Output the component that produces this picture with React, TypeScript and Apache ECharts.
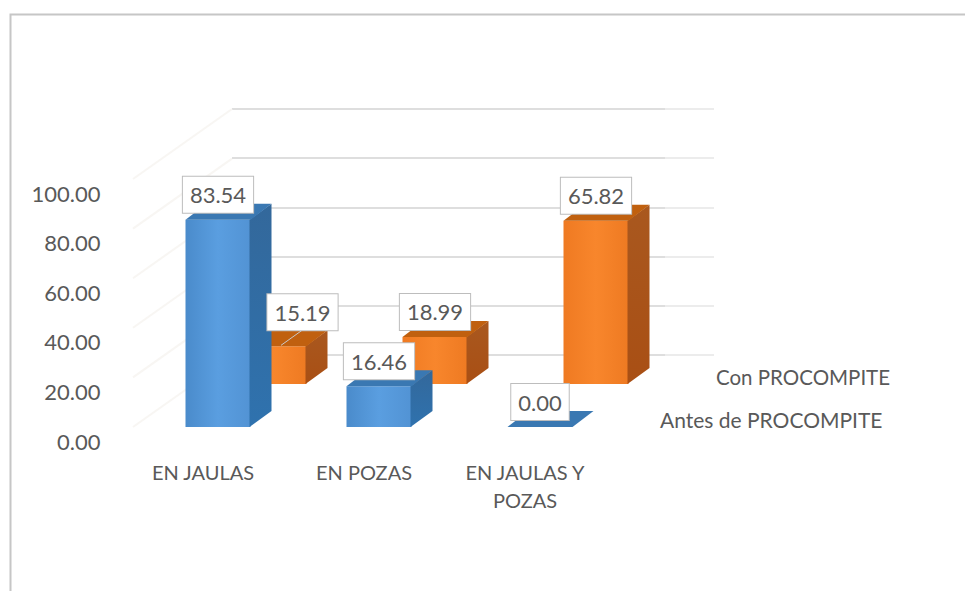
import React, { useEffect, useRef } from "react";
import * as echarts from "echarts";

const categories = ["EN JAULAS", "EN POZAS", "EN JAULAS Y\nPOZAS"];
const antes = [83.54, 16.46, 0.0];
const con = [15.19, 18.99, 65.82];
const seriesNames = ["Antes de PROCOMPITE", "Con PROCOMPITE"];
const wallTicks = [0, 20, 40, 60, 80, 100];

const FONT = "Lato";
const TEXT = "#595959";
const BAR_W = 65;
const SIDE_X = 21;
const SIDE_Y = 16;
const LABEL_CX = 15;
const ROW_X = 56;
const ROW_Y = 43;

type Palette = { front: string[]; side: string[]; top: string };
const BLUE: Palette = {
  front: ["#4a8bcb", "#5a9ee0", "#5293d4"],
  side: ["#33689b", "#2f72ae"],
  top: "#3a78b2",
};
const ORANGE: Palette = {
  front: ["#ef7a22", "#f8862c", "#ee7a22"],
  side: ["#a9581f", "#a94f14"],
  top: "#c0600f",
};

function barRenderer(pal: Palette, row: number) {
  return (_p: any, api: any) => {
    const p = api.coord([api.value(0), api.value(1)]);
    const b = api.coord([api.value(0), 0]);
    const left = p[0] + LABEL_CX - BAR_W / 2 + row * ROW_X;
    const right = left + BAR_W;
    const top = p[1] - row * ROW_Y;
    const bottom = b[1] - row * ROW_Y;
    const children: any[] = [];
    if (bottom > top) {
      children.push({
        type: "rect",
        shape: { x: left, y: top, width: BAR_W, height: bottom - top },
        style: {
          fill: new echarts.graphic.LinearGradient(0, 0, 1, 0, [
            { offset: 0, color: pal.front[0] },
            { offset: 0.5, color: pal.front[1] },
            { offset: 1, color: pal.front[2] },
          ]),
        },
      });
      children.push({
        type: "polygon",
        shape: {
          points: [
            [right - 1, top],
            [right + SIDE_X, top - SIDE_Y],
            [right + SIDE_X, bottom - SIDE_Y],
            [right - 1, bottom],
          ],
        },
        style: {
          fill: new echarts.graphic.LinearGradient(0, 0, 0, 1, [
            { offset: 0, color: pal.side[0] },
            { offset: 1, color: pal.side[1] },
          ]),
        },
      });
    }
    children.push({
      type: "polygon",
      shape: {
        points: [
          [left, top],
          [left + SIDE_X, top - SIDE_Y],
          [right + SIDE_X, top - SIDE_Y],
          [right, top],
        ],
      },
      style: { fill: pal.top },
    });
    return { type: "group", children };
  };
}

function labelRenderer(row: number) {
  return (_p: any, api: any) => {
    const v = api.value(1);
    const p = api.coord([api.value(0), v]);
    const cx = p[0] + LABEL_CX + row * ROW_X;
    const top = p[1] - row * ROW_Y;
    // The first back-row label was dragged aside in the original, with a leader line.
    const moved = row === 1 && api.value(0) === 0;
    const bx = moved ? cx + 28.5 : cx;
    const by = top - (moved ? 34 : 25);
    const children: any[] = [];
    if (moved) {
      children.push({
        type: "line",
        shape: { x1: cx + 7, y1: top - 1, x2: cx + 28, y2: by + 18 },
        style: { stroke: "#c9c9c9", lineWidth: 1 },
      });
    }
    children.push({
      type: "text",
      x: bx,
      y: by,
      style: {
        text: v.toFixed(2),
        font: `22px ${FONT}`,
        fill: TEXT,
        align: "center",
        verticalAlign: "middle",
        backgroundColor: "#ffffff",
        borderColor: "#bdbdbd",
        borderWidth: 1,
        padding: [7, 7, 7, 7],
      },
    });
    return { type: "group", children };
  };
}

function wallRenderer(_p: any, api: any) {
  const p = api.coord([0, api.value(1)]);
  const x = p[0] - 70;
  return {
    type: "line",
    shape: { x1: x, y1: p[1], x2: x + 99, y2: p[1] - 70 },
    style: { stroke: "#f8f6f3", lineWidth: 2 },
  };
}

function backGrid(left: number, width: number) {
  return { left, width, top: 109, height: 246 };
}

export default function App() {
  const ref = useRef<HTMLDivElement>(null);
  useEffect(() => {
    document.body.style.margin = "0";
    const chart = echarts.init(ref.current!, undefined, { renderer: "svg" });
    const hiddenX = (gridIndex: number) => ({
      type: "category" as const,
      gridIndex,
      data: categories,
      show: false,
    });
    const wallY = (gridIndex: number, color: string) => ({
      type: "value" as const,
      gridIndex,
      min: 0,
      max: 100,
      interval: 20,
      axisLine: { show: false },
      axisTick: { show: false },
      axisLabel: { show: false },
      splitLine: { show: true, lineStyle: { color, width: 2 } },
    });
    chart.setOption({
      animation: false,
      backgroundColor: "#ffffff",
      grid: [
        { left: 122.5, width: 483, top: 179, height: 248 },
        backGrid(232, 433),
        backGrid(665, 49),
      ],
      xAxis: [
        {
          type: "category",
          gridIndex: 0,
          data: categories,
          axisLine: { show: false },
          axisTick: { show: false },
          axisLabel: {
            color: TEXT,
            fontFamily: FONT,
            fontSize: 20,
            lineHeight: 28,
            margin: 31,
            interval: 0,
          },
        },
        hiddenX(1),
        hiddenX(2),
      ],
      yAxis: [
        {
          type: "value",
          gridIndex: 0,
          min: 0,
          max: 100,
          interval: 20,
          axisLine: { show: false },
          axisTick: { show: false },
          splitLine: { show: false },
          axisLabel: {
            color: TEXT,
            fontFamily: FONT,
            fontSize: 22,
            margin: 22,
            verticalAlign: "top",
            padding: [3, 0, 0, 0],
            formatter: (v: number) => v.toFixed(2),
          },
        },
        wallY(1, "#dedede"),
        wallY(2, "#ececec"),
      ],
      series: [
        {
          type: "custom",
          name: "wall",
          xAxisIndex: 0,
          yAxisIndex: 0,
          z: 1,
          silent: true,
          clip: false,
          encode: { x: 0, y: 1 },
          data: wallTicks.map((v) => [0, v]),
          renderItem: wallRenderer,
        },
        {
          type: "custom",
          name: seriesNames[1],
          xAxisIndex: 0,
          yAxisIndex: 0,
          z: 2,
          clip: false,
          encode: { x: 0, y: 1 },
          data: con.map((v, i) => [i, v]),
          renderItem: barRenderer(ORANGE, 1),
        },
        {
          type: "custom",
          name: seriesNames[0],
          xAxisIndex: 0,
          yAxisIndex: 0,
          z: 3,
          clip: false,
          encode: { x: 0, y: 1 },
          data: antes.map((v, i) => [i, v]),
          renderItem: barRenderer(BLUE, 0),
        },
        {
          type: "custom",
          name: "labels-con",
          xAxisIndex: 0,
          yAxisIndex: 0,
          z: 4,
          clip: false,
          encode: { x: 0, y: 1 },
          data: con.map((v, i) => [i, v]),
          renderItem: labelRenderer(1),
        },
        {
          type: "custom",
          name: "labels-antes",
          xAxisIndex: 0,
          yAxisIndex: 0,
          z: 5,
          clip: false,
          encode: { x: 0, y: 1 },
          data: antes.map((v, i) => [i, v]),
          renderItem: labelRenderer(0),
        },
      ],
      graphic: [
        {
          type: "polyline",
          shape: {
            points: [
              [10.5, 591],
              [10.5, 14.5],
              [965, 14.5],
            ],
          },
          style: { stroke: "#c6c6c6", lineWidth: 2, fill: "none" },
          z: 0,
        },
        {
          type: "text",
          x: 716,
          y: 377,
          style: {
            text: seriesNames[1],
            font: `20.5px ${FONT}`,
            fill: TEXT,
            verticalAlign: "middle",
          },
        },
        {
          type: "text",
          x: 660,
          y: 419,
          style: {
            text: seriesNames[0],
            font: `21px ${FONT}`,
            fill: TEXT,
            verticalAlign: "middle",
          },
        },
      ],
    });
    return () => chart.dispose();
  }, []);
  return <div ref={ref} style={{ width: 965, height: 591 }} />;
}
